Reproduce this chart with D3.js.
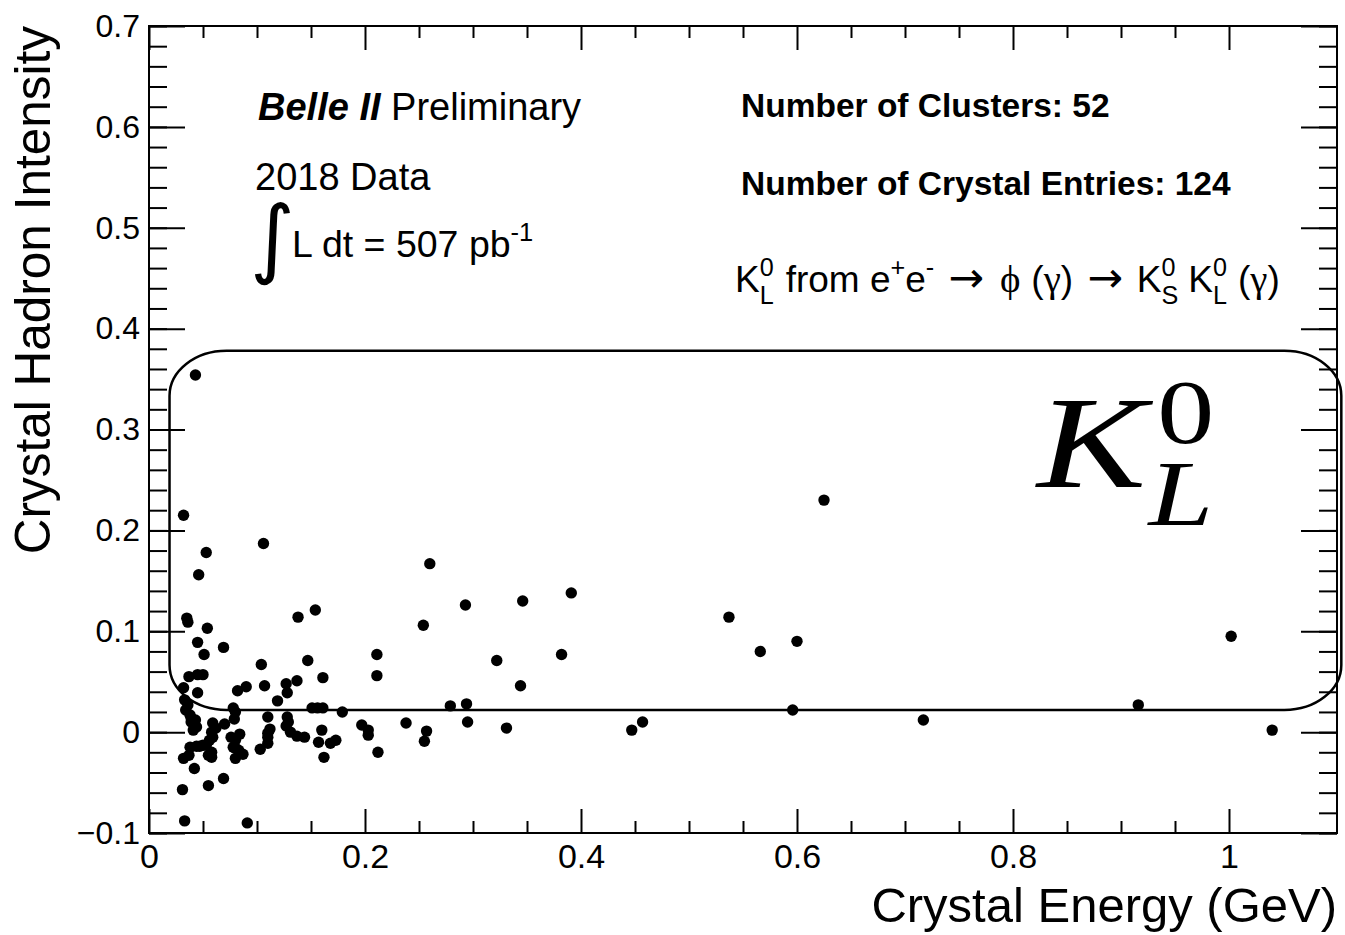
<!DOCTYPE html>
<html>
<head>
<meta charset="utf-8">
<script src="https://cdn.jsdelivr.net/npm/d3@7"></script>
<style>
  html, body { margin: 0; padding: 0; background: #fff; }
  svg { display: block; }
  text { font-family: "Liberation Sans", Arial, Helvetica, sans-serif; fill: #000; white-space: pre; }
</style>
</head>
<body>
<svg id="chart" width="1345" height="935"></svg>
<script>
// one entry per crystal: energy (GeV) and hadron intensity
var energy = [
  0.043, 0.032, 0.106, 0.053, 0.046, 0.035, 0.036, 0.054, 0.045, 0.069,
  0.051, 0.104, 0.138, 0.154, 0.147, 0.037, 0.045, 0.050, 0.032, 0.045,
  0.033, 0.034, 0.038, 0.039, 0.043, 0.044, 0.041, 0.059, 0.058, 0.059,
  0.056, 0.053, 0.038, 0.044, 0.050, 0.032, 0.037, 0.055, 0.058, 0.042,
  0.031, 0.055, 0.069, 0.082, 0.090, 0.078, 0.080, 0.079, 0.070, 0.084,
  0.076, 0.078, 0.083, 0.087, 0.080, 0.103, 0.110, 0.110, 0.112, 0.110,
  0.107, 0.119, 0.127, 0.128, 0.137, 0.161, 0.128, 0.127, 0.131, 0.137,
  0.144, 0.151, 0.156, 0.161, 0.160, 0.157, 0.168, 0.173, 0.162, 0.179,
  0.033, 0.091, 0.197, 0.203, 0.203, 0.212, 0.211, 0.211, 0.238, 0.257,
  0.255, 0.254, 0.260, 0.279, 0.294, 0.295, 0.293, 0.322, 0.331, 0.346,
  0.344, 0.391, 0.382, 0.447, 0.457, 0.537, 0.566, 0.600, 0.596, 0.625,
  0.717, 0.916, 1.002, 1.040, 0.036, 0.042, 0.047, 0.080, 0.129, 0.110,
  0.062, 0.058, 0.080, 0.039
];
var intensity = [
  0.354, 0.215, 0.187, 0.178, 0.156, 0.113, 0.109, 0.103, 0.089, 0.084,
  0.077, 0.067, 0.114, 0.121, 0.071, 0.055, 0.057, 0.057, 0.044, 0.039,
  0.032, 0.022, 0.017, 0.010, 0.012, 0.005, 0.002, 0.009, 0.000, -0.005,
  -0.008, -0.013, -0.015, -0.014, -0.013, -0.026, -0.023, -0.023, -0.025, -0.036,
  -0.057, -0.053, -0.046, 0.041, 0.045, 0.024, 0.020, 0.013, 0.008, -0.002,
  -0.005, -0.015, -0.018, -0.022, -0.026, -0.017, -0.011, -0.005, 0.003, 0.015,
  0.046, 0.031, 0.048, 0.039, 0.051, 0.054, 0.015, 0.006, 0.000, -0.004,
  -0.005, 0.024, 0.024, 0.024, 0.002, -0.010, -0.011, -0.008, -0.025, 0.020,
  -0.088, -0.090, 0.007, 0.002, -0.003, -0.020, 0.077, 0.056, 0.009, 0.001,
  -0.009, 0.106, 0.167, 0.026, 0.028, 0.010, 0.126, 0.071, 0.004, 0.130,
  0.046, 0.138, 0.077, 0.002, 0.010, 0.114, 0.080, 0.090, 0.022, 0.230,
  0.012, 0.027, 0.095, 0.002, 0.027, 0.007, -0.014, -0.016, 0.010, -0.001,
  0.004, -0.020, -0.008, 0.014
];

var xDomain = [0, 1.1];
var yDomain = [-0.1, 0.7];
var xMajorTicks = [0, 0.2, 0.4, 0.6, 0.8, 1];
var xTickLabels = ["0", "0.2", "0.4", "0.6", "0.8", "1"];
var yMajorTicks = [-0.1, 0, 0.1, 0.2, 0.3, 0.4, 0.5, 0.6, 0.7];
var yTickLabels = ["\u22120.1", "0", "0.1", "0.2", "0.3", "0.4", "0.5", "0.6", "0.7"];
// K_L^0 selection region drawn on the plot: [xMin, yMin, xMax, yMax]
var kBox = [0.019, 0.022, 1.104, 0.378];

var W = 1345, H = 935;
var margin = { top: 26, right: 8, bottom: 102, left: 149 };
var width = W - margin.left - margin.right;
var height = H - margin.top - margin.bottom;

var svg = d3.select("#chart");
var g = svg.append("g").attr("transform", "translate(" + margin.left + "," + margin.top + ")");

var x = d3.scaleLinear().domain(xDomain).range([0, width]);
var y = d3.scaleLinear().domain(yDomain).range([height, 0]);

var xMinor = d3.range(0, 21).map(function(i) { return i * 0.05; }).filter(function(v) { return xMajorTicks.indexOf(+v.toFixed(2)) < 0; });
var yMinor = d3.range(0, 41).map(function(i) { return -0.1 + i * 0.02; });

function styleAxis(sel, size) {
  sel.select(".domain").remove();
  sel.selectAll(".tick line").attr("stroke", "#000").attr("stroke-width", 2);
  sel.attr("font-family", "Liberation Sans, Arial, Helvetica, sans-serif").attr("font-size", size || 32);
  sel.selectAll(".tick text").attr("fill", "#000");
}

// minor ticks on all four sides
g.append("g").call(d3.axisLeft(y).tickValues(yMinor).tickSize(-18).tickFormat("")).call(styleAxis);
g.append("g").attr("transform", "translate(" + width + ",0)")
  .call(d3.axisRight(y).tickValues(yMinor).tickSize(-18).tickFormat("")).call(styleAxis);
g.append("g").attr("transform", "translate(0," + height + ")")
  .call(d3.axisBottom(x).tickValues(xMinor).tickSize(-12).tickFormat("")).call(styleAxis);
g.append("g").call(d3.axisTop(x).tickValues(xMinor).tickSize(-12).tickFormat("")).call(styleAxis);

// major ticks
g.append("g")
  .call(d3.axisLeft(y).tickValues(yMajorTicks).tickSize(-36).tickPadding(9)
    .tickFormat(function(d, i) { return yTickLabels[i]; }))
  .call(styleAxis, 32);
g.append("g").attr("transform", "translate(" + width + ",0)")
  .call(d3.axisRight(y).tickValues(yMajorTicks).tickSize(-36).tickFormat(""))
  .call(styleAxis);
g.append("g").attr("transform", "translate(0," + height + ")")
  .call(d3.axisBottom(x).tickValues(xMajorTicks).tickSize(-24).tickPadding(11)
    .tickFormat(function(d, i) { return xTickLabels[i]; }))
  .call(styleAxis, 34);
g.append("g")
  .call(d3.axisTop(x).tickValues(xMajorTicks).tickSize(-24).tickFormat(""))
  .call(styleAxis);

g.append("rect")
  .attr("width", width).attr("height", height)
  .attr("fill", "none").attr("stroke", "#000").attr("stroke-width", 2);

// selection box
g.append("rect")
  .attr("x", x(kBox[0])).attr("y", y(kBox[3]))
  .attr("width", x(kBox[2]) - x(kBox[0]))
  .attr("height", y(kBox[1]) - y(kBox[3]))
  .attr("rx", 57).attr("ry", 45)
  .attr("fill", "none").attr("stroke", "#000").attr("stroke-width", 2.5);

// points
g.selectAll("circle.pt")
  .data(energy)
  .enter().append("circle")
  .attr("class", "pt")
  .attr("cx", function(d) { return x(d); })
  .attr("cy", function(d, i) { return y(intensity[i]); })
  .attr("r", 5.7)
  .attr("fill", "#000");

// axis titles
svg.append("text")
  .attr("x", margin.left + width).attr("y", 922)
  .attr("text-anchor", "end")
  .style("font-size", "49px")
  .text("Crystal Energy (GeV)");

svg.append("text")
  .attr("transform", "translate(50," + margin.top + ") rotate(-90)")
  .attr("text-anchor", "end")
  .style("font-size", "49.5px")
  .text("Crystal Hadron Intensity");

// text laid out piece by piece, with stacked super/subscripts
function richLine(x0, y0, size, pieces) {
  var cx = x0;
  pieces.forEach(function(p) {
    if (p.t !== undefined) {
      var fs = size * (p.scale || 1);
      var t = svg.append("text").attr("x", cx).attr("y", y0).style("font-size", fs + "px").text(p.t);
      if (p.weight) t.style("font-weight", p.weight);
      if (p.italic) t.style("font-style", "italic");
      if (p.font) t.style("font-family", p.font);
      cx += t.node().getComputedTextLength() + (p.gap || 0);
    } else {
      var w = 0;
      if (p.sup) {
        var s = svg.append("text").attr("x", cx).attr("y", y0 - size * 0.42)
          .style("font-size", (size * 0.68) + "px").text(p.sup);
        w = Math.max(w, s.node().getComputedTextLength());
      }
      if (p.sub) {
        var b = svg.append("text").attr("x", cx).attr("y", y0 + size * 0.32)
          .style("font-size", (size * 0.68) + "px").text(p.sub);
        w = Math.max(w, b.node().getComputedTextLength());
      }
      cx += w + (p.gap || 0);
    }
  });
}

richLine(258, 120, 38, [{ t: "Belle II", weight: "bold", italic: true }, { t: " Preliminary" }]);
richLine(255, 190, 38, [{ t: "2018 Data" }]);

svg.append("text")
  .attr("x", 250).attr("y", 267)
  .style("font-family", "DejaVu Sans")
  .style("font-size", "86px")
  .text("\u222B");

richLine(292, 257, 37.5, [{ t: "L dt = 507 pb" }, { sup: "-1" }]);

richLine(741, 117, 33.5, [{ t: "Number of Clusters: 52", weight: "bold" }]);
richLine(741, 195, 33.5, [{ t: "Number of Crystal Entries: 124", weight: "bold" }]);

var sym = "Liberation Serif, DejaVu Serif, serif";
var arrowFont = "DejaVu Sans, sans-serif";
richLine(735, 292, 37, [
  { t: "K" }, { sup: "0", sub: "L", gap: 12 }, { t: "from e" }, { sup: "+" }, { t: "e" }, { sup: "-", gap: 14 },
  { t: "\u2192", font: arrowFont, scale: 1.15, gap: 16 },
  { t: "\u03D5", font: sym, scale: 1.05, gap: 11 },
  { t: "(" }, { t: "\u03B3", font: sym, scale: 1.05 }, { t: ")", gap: 14 },
  { t: "\u2192", font: arrowFont, scale: 1.15, gap: 14 },
  { t: "K" }, { sup: "0", sub: "S", gap: 10 }, { t: "K" }, { sup: "0", sub: "L", gap: 11 },
  { t: "(" }, { t: "\u03B3", font: sym, scale: 1.05 }, { t: ")" }
]);

// big K_L^0 label, stretched to the width of the math font in the reference
var big = svg.append("text")
  .attr("transform", "translate(1037,0) scale(1.24,1)")
  .style("font-family", "Liberation Serif, Times New Roman, serif");
big.append("tspan").attr("x", 0).attr("y", 487)
  .style("font-style", "italic").style("font-size", "132px").text("K");
big.append("tspan").attr("x", 97).attr("y", 443)
  .style("font-size", "92px").text("0");
big.append("tspan").attr("x", 90).attr("y", 525)
  .style("font-style", "italic").style("font-size", "94px").text("L");
</script>
</body>
</html>
